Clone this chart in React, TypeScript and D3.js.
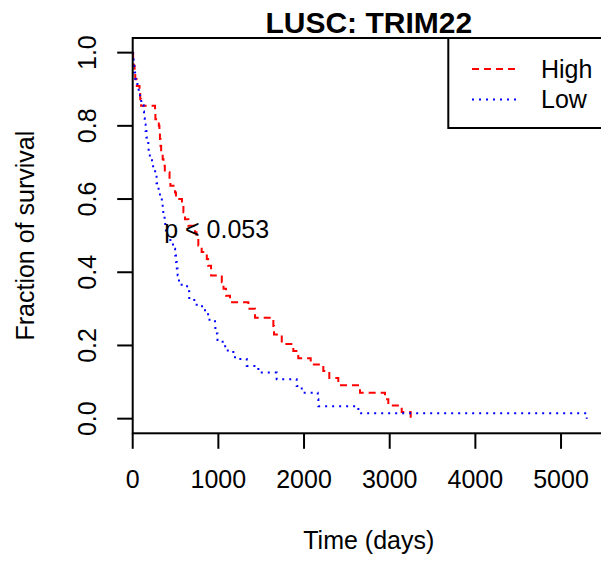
import React from "react";
import * as d3 from "d3";

const highTimes = [0, 5, 12, 22, 30, 48, 80, 88, 98, 261, 265, 305, 312, 318, 325, 332, 350, 360, 375, 430, 440, 494, 505, 575, 592, 610, 650, 727, 745, 766, 805, 865, 880, 915, 1040, 1060, 1089, 1136, 1350, 1428, 1642, 1650, 1740, 1875, 1933, 2078, 2225, 2295, 2400, 2653, 2945, 2984, 3140, 3245];
const highSurv = [1, 0.982, 0.964, 0.945, 0.927, 0.909, 0.891, 0.873, 0.855, 0.836, 0.818, 0.8, 0.782, 0.764, 0.745, 0.727, 0.709, 0.691, 0.673, 0.655, 0.636, 0.618, 0.6, 0.582, 0.564, 0.545, 0.527, 0.509, 0.491, 0.473, 0.455, 0.436, 0.418, 0.391, 0.373, 0.355, 0.336, 0.318, 0.3, 0.276, 0.253, 0.23, 0.204, 0.185, 0.165, 0.148, 0.13, 0.111, 0.091, 0.071, 0.053, 0.036, 0.018, 0];

const lowTimes = [0, 4, 10, 18, 28, 55, 70, 85, 100, 126, 132, 140, 150, 160, 182, 186, 200, 225, 238, 262, 278, 302, 318, 340, 350, 357, 372, 380, 388, 440, 470, 495, 505, 515, 525, 540, 635, 660, 747, 844, 880, 961, 965, 990, 1050, 1110, 1194, 1331, 1467, 1681, 1914, 1973, 2160, 2167, 2634, 5300];
const lowSurv = [1, 0.982, 0.964, 0.946, 0.929, 0.911, 0.893, 0.875, 0.857, 0.839, 0.821, 0.804, 0.786, 0.768, 0.75, 0.732, 0.714, 0.696, 0.679, 0.661, 0.643, 0.625, 0.607, 0.589, 0.571, 0.554, 0.536, 0.518, 0.5, 0.482, 0.464, 0.446, 0.428, 0.41, 0.392, 0.366, 0.348, 0.324, 0.307, 0.289, 0.27, 0.251, 0.233, 0.215, 0.198, 0.182, 0.163, 0.144, 0.126, 0.108, 0.089, 0.071, 0.053, 0.034, 0.015, 0];

const timeTicks = [0, 1000, 2000, 3000, 4000, 5000];
const survTicks = [0, 0.2, 0.4, 0.6, 0.8, 1.0];
const seriesNames = ["High", "Low"];
const seriesColors = ["#FF0000", "#0000FF"];
const title = "LUSC: TRIM22";
const xTitle = "Time (days)";
const yTitle = "Fraction of survival";
const pLabel = "p < 0.053";
const pPos = [980, 0.494];
const maxTime = 5300;

const FONT = "'Liberation Sans', Arial, Helvetica, sans-serif";

export default function App() {
  const W = 601, H = 561;
  const left = 132.7, right = 604.9, top = 38, bottom = 433.3;
  const x = d3.scaleLinear().domain([0, maxTime * 1.04]).range([left, right]);
  const y = d3.scaleLinear().domain([-0.04, 1.04]).range([bottom, top]);
  const line = d3
    .line<[number, number]>()
    .x((d) => x(d[0]))
    .y((d) => y(d[1]))
    .curve(d3.curveStepAfter);
  const highPts = highTimes.map((t, i) => [t, highSurv[i]] as [number, number]);
  const lowPts = lowTimes.map((t, i) => [t, lowSurv[i]] as [number, number]);
  const dashes = ["7 5", "2 5"];
  const legX = 448.3;
  const legRows = [69, 99.5];

  return (
    <svg
      width={W}
      height={H}
      style={{ position: "absolute", left: 0, top: 0, background: "#fff" }}
      fontFamily={FONT}
    >
      <rect x={0} y={0} width={W} height={H} fill="#fff" />
      <text x={(left + right) / 2} y={32.5} textAnchor="middle" fontSize={30} fontWeight="bold">
        {title}
      </text>
      {/* curves */}
      <path d={line(highPts) || ""} fill="none" stroke={seriesColors[0]} strokeWidth={2} strokeDasharray={dashes[0]} />
      <path d={line(lowPts) || ""} fill="none" stroke={seriesColors[1]} strokeWidth={2} strokeDasharray={dashes[1]} />
      {/* box */}
      <rect x={left} y={top} width={right - left} height={bottom - top} fill="none" stroke="#000" strokeWidth={2} />
      {/* x axis */}
      {timeTicks.map((t) => (
        <g key={"xt" + t}>
          <line x1={x(t)} x2={x(t)} y1={bottom} y2={bottom + 15.5} stroke="#000" strokeWidth={2} />
          <text x={x(t)} y={488} textAnchor="middle" fontSize={25}>
            {t}
          </text>
        </g>
      ))}
      <text x={(left + right) / 2} y={549} textAnchor="middle" fontSize={25}>
        {xTitle}
      </text>
      {/* y axis */}
      {survTicks.map((s) => (
        <g key={"yt" + s}>
          <line x1={left - 15.5} x2={left} y1={y(s)} y2={y(s)} stroke="#000" strokeWidth={2} />
          <text transform={`translate(96,${y(s)}) rotate(-90)`} textAnchor="middle" fontSize={25}>
            {s.toFixed(1)}
          </text>
        </g>
      ))}
      <text transform={`translate(34,${(top + bottom) / 2}) rotate(-90)`} textAnchor="middle" fontSize={25}>
        {yTitle}
      </text>
      {/* p value */}
      <text x={x(pPos[0])} y={y(pPos[1])} textAnchor="middle" fontSize={25}>
        {pLabel}
      </text>
      {/* legend */}
      <rect x={legX} y={top} width={right - legX} height={128 - top} fill="#fff" stroke="#000" strokeWidth={2} />
      {seriesNames.map((n, i) => (
        <g key={n}>
          <line x1={472} x2={517} y1={legRows[i]} y2={legRows[i]} stroke={seriesColors[i]} strokeWidth={2} strokeDasharray={dashes[i]} />
          <text x={541} y={legRows[i] + 8.5} fontSize={25}>
            {n}
          </text>
        </g>
      ))}
    </svg>
  );
}
